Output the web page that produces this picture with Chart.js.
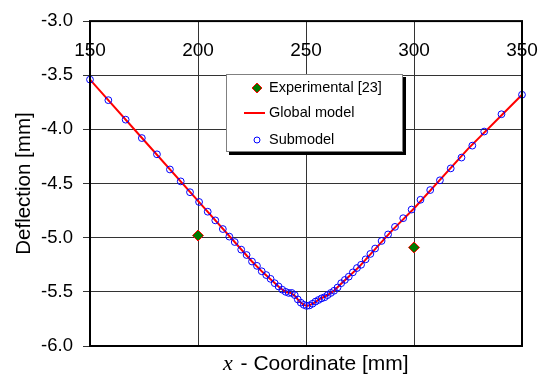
<!DOCTYPE html>
<html>
<head>
<meta charset="utf-8">
<script src="https://cdn.jsdelivr.net/npm/chart.js@4/dist/chart.umd.min.js"></script>
<style>
  body { margin: 0; background: #fff; }
  canvas { display: block; }
</style>
</head>
<body>
<canvas id="chart" width="547" height="374"></canvas>
<script>
// x tick labels (drawn inside the plot, near the top)
var xTicks = [150, 200, 250, 300, 350];

// experimental [23]
var expX = [200, 300];
var expY = [-4.98, -5.09];

// global model
var globalX = [150, 175, 200, 225, 230, 235, 238, 241, 243, 245, 247, 249, 250.5, 252, 254, 256, 258, 260, 263, 266, 270, 275, 280, 290, 300, 325, 350];
var globalY = [-3.54, -4.10, -4.66, -5.22, -5.32, -5.41, -5.465, -5.505, -5.51, -5.54, -5.59, -5.62, -5.63, -5.62, -5.60, -5.57, -5.55, -5.53, -5.49, -5.43, -5.355, -5.26, -5.15, -4.93, -4.73, -4.18, -3.68];

// submodel
var subX = [150, 158.5, 166.5, 174, 181, 187, 192, 196.3, 200.5, 204.5,
            208, 211.5, 214.5, 217, 220, 222.5, 225, 227.3, 229.5, 231.6,
            233.6, 235.5, 237.3, 239, 240.6, 242, 243.4, 244.8, 246.2, 247.6,
            249, 250.3, 251.6, 253, 254.4, 255.8, 257.2, 258.6, 260, 261.5,
            263, 264.6, 266.3, 268, 269.8, 271.7, 273.6, 275.5, 277.6, 279.8,
            282, 285, 288, 291.2, 295, 298.9, 303, 307.5, 312, 317,
            322, 327, 332.5, 340.5, 350];
var subY = [-3.54, -3.73, -3.91, -4.08, -4.23, -4.37, -4.48, -4.58, -4.67, -4.76,
            -4.84, -4.92, -4.99, -5.04, -5.11, -5.16, -5.22, -5.26, -5.31, -5.345,
            -5.38, -5.42, -5.45, -5.48, -5.50, -5.51, -5.51, -5.53, -5.57, -5.60,
            -5.62, -5.63, -5.625, -5.61, -5.59, -5.575, -5.56, -5.55, -5.53, -5.51,
            -5.49, -5.46, -5.42, -5.39, -5.36, -5.32, -5.28, -5.25, -5.20, -5.15,
            -5.10, -5.03, -4.97, -4.90, -4.82, -4.74, -4.65, -4.56, -4.47, -4.36,
            -4.26, -4.15, -4.02, -3.86, -3.68];

function pts(xs, ys) {
  return xs.map(function (x, i) { return { x: x, y: ys[i] }; });
}

var SANS = '"Liberation Sans", Arial, sans-serif';

// frame, x labels on top, x title and the legend box
var extras = {
  id: 'extras',
  afterDraw: function (chart) {
    var ctx = chart.ctx;
    var a = chart.chartArea;
    var xs = chart.scales.x;
    ctx.save();

    // plot frame
    ctx.strokeStyle = '#000';
    ctx.lineWidth = 2;
    ctx.strokeRect(a.left, a.top, a.right - a.left, a.bottom - a.top);

    // x tick labels
    ctx.fillStyle = '#000';
    ctx.font = '19px ' + SANS;
    ctx.textAlign = 'center';
    ctx.textBaseline = 'middle';
    xTicks.forEach(function (v) {
      ctx.fillText(String(v), xs.getPixelForValue(v), a.top + 30);
    });

    // x title: italic x + rest
    ctx.textAlign = 'left';
    ctx.textBaseline = 'alphabetic';
    var x0 = 223, by = 370;
    ctx.font = 'italic 22px "Liberation Serif", "Times New Roman", serif';
    ctx.fillText('x', x0, by);
    var w = ctx.measureText('x').width;
    ctx.font = '21px ' + SANS;
    ctx.fillText(' - Coordinate [mm]', x0 + w + 2, by);

    // legend box with shadow
    var lx = 226, ly = 74, lw = 177, lh = 78;
    ctx.fillStyle = '#000';
    ctx.fillRect(lx + 3, ly + 3, lw, lh);
    ctx.fillStyle = '#fff';
    ctx.fillRect(lx, ly, lw, lh);
    ctx.strokeStyle = '#808080';
    ctx.lineWidth = 1;
    ctx.strokeRect(lx + 0.5, ly + 0.5, lw - 1, lh - 1);

    var sym = 257, tx = 269;
    var rows = [88, 113, 140];

    // experimental diamond
    ctx.beginPath();
    ctx.moveTo(sym, rows[0] - 5);
    ctx.lineTo(sym + 5, rows[0]);
    ctx.lineTo(sym, rows[0] + 5);
    ctx.lineTo(sym - 5, rows[0]);
    ctx.closePath();
    ctx.fillStyle = '#007a00';
    ctx.fill();
    ctx.strokeStyle = '#ff0000';
    ctx.stroke();

    // global model line
    ctx.beginPath();
    ctx.moveTo(244, rows[1]);
    ctx.lineTo(265, rows[1]);
    ctx.strokeStyle = '#ff0000';
    ctx.lineWidth = 2;
    ctx.stroke();

    // submodel circle
    ctx.beginPath();
    ctx.arc(sym, rows[2], 3, 0, Math.PI * 2);
    ctx.strokeStyle = '#0000ff';
    ctx.lineWidth = 1;
    ctx.stroke();

    ctx.fillStyle = '#000';
    ctx.font = '14.5px ' + SANS;
    ctx.textBaseline = 'middle';
    ctx.fillText('Experimental [23]', tx, rows[0]);
    ctx.fillText('Global model', tx, rows[1]);
    ctx.fillText('Submodel', tx, rows[2]);

    ctx.restore();
  }
};

var config = {
  type: 'scatter',
  data: {
    datasets: [{
      label: 'Experimental [23]',
      data: pts(expX, expY),
      pointStyle: 'rectRot',
      pointRadius: 5.5,
      backgroundColor: '#007a00',
      borderColor: '#ff0000',
      borderWidth: 1,
      order: 0,
      clip: false
    }, {
      label: 'Submodel',
      data: pts(subX, subY),
      pointStyle: 'circle',
      pointRadius: 3.4,
      backgroundColor: 'rgba(0,0,0,0)',
      borderColor: '#0000ff',
      borderWidth: 1,
      order: 1,
      clip: false
    }, {
      label: 'Global model',
      data: pts(globalX, globalY),
      showLine: true,
      pointRadius: 0,
      borderColor: '#ff0000',
      borderWidth: 2,
      order: 2
    }]
  },
  options: {
    responsive: false,
    animation: false,
    devicePixelRatio: 1,
    layout: { padding: { top: 13, right: 25, left: 0, bottom: 0 } },
    plugins: { legend: { display: false }, tooltip: { enabled: false } },
    scales: {
      x: {
        type: 'linear',
        min: 150,
        max: 350,
        ticks: { stepSize: 50, display: false },
        grid: { color: '#333', lineWidth: 1, drawTicks: false },
        border: { display: false },
        afterFit: function (s) { s.height = 28; }
      },
      y: {
        min: -6,
        max: -3,
        ticks: {
          stepSize: 0.5,
          color: '#000',
          padding: 10,
          font: { family: SANS, size: 18.5 },
          callback: function (v) { return v.toFixed(1); }
        },
        grid: { color: '#333', lineWidth: 1, tickLength: 7 },
        border: { display: false },
        title: {
          display: true,
          text: 'Deflection [mm]',
          color: '#000',
          font: { family: SANS, size: 20.5 },
          padding: { top: 12, bottom: 0 }
        },
        afterFit: function (s) { s.width = 90; }
      }
    }
  },
  plugins: [extras]
};

var ctx = document.getElementById('chart').getContext('2d');
window.myChart = new Chart(ctx, config);
</script>
</body>
</html>
